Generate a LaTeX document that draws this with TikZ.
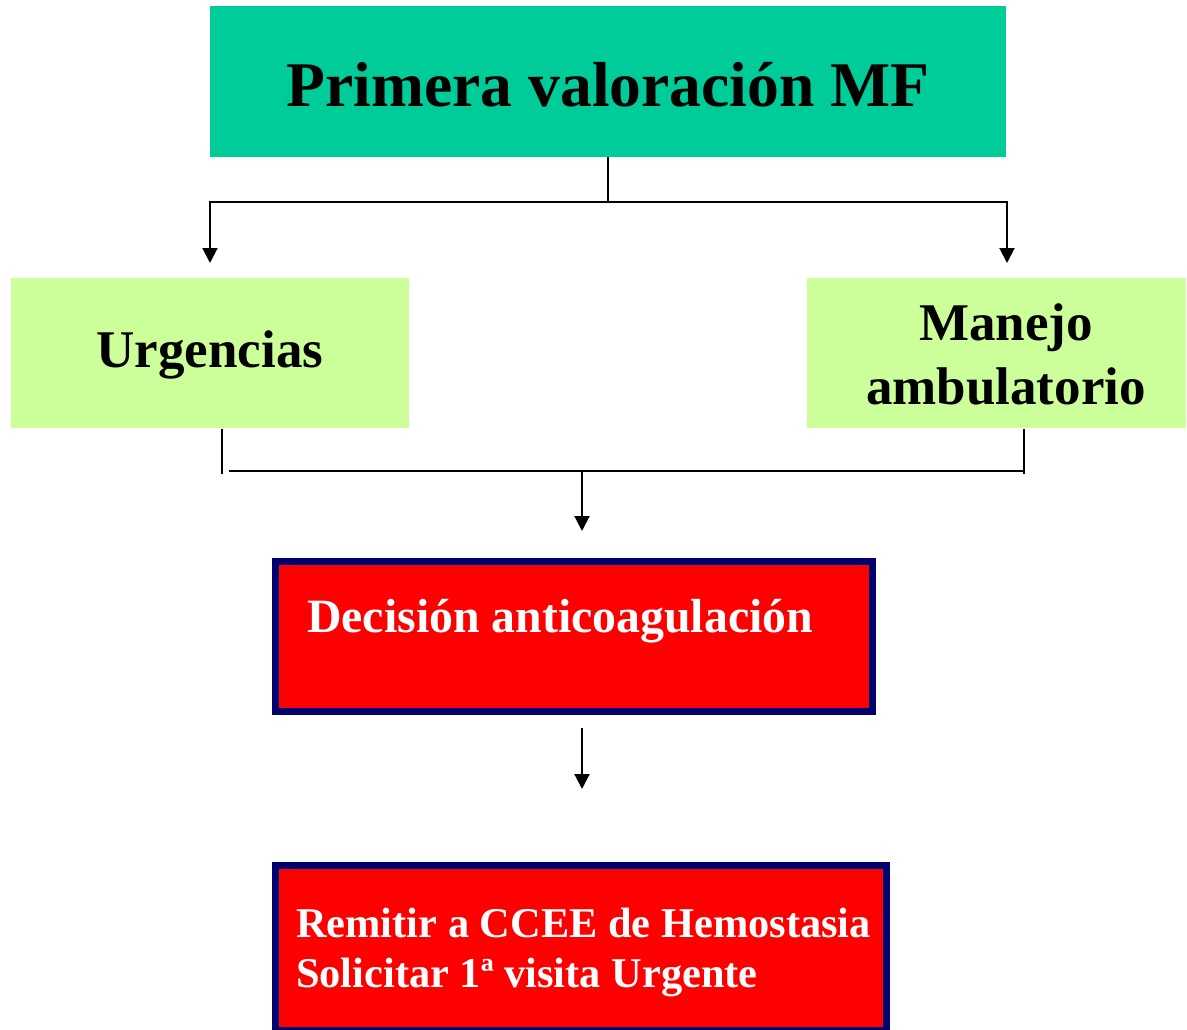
\documentclass[tikz,border=0pt]{standalone}
\usepackage{fontspec}
\setmainfont{Liberation Serif}
\usetikzlibrary{arrows.meta,calc}
\definecolor{topgreen}{HTML}{00CC99}
\definecolor{lightgreen}{HTML}{CCFF99}
\definecolor{boxred}{HTML}{FF0000}
\definecolor{navy}{HTML}{000070}
\tikzset{
  conn/.style={line width=2pt, black},
  arr/.style={conn, -{Triangle[width=15pt,length=15pt]}},
  plainbox/.style={rectangle, inner sep=0pt, outer sep=0pt, anchor=north west},
  redbox/.style={rectangle, inner sep=0pt, outer sep=0pt, anchor=north west, fill=boxred, draw=navy, line width=7pt},
  txt/.style={inner sep=0pt, font=\bfseries},
}
\begin{document}
\begin{tikzpicture}[x=1pt,y=-1pt]
\useasboundingbox (0,0) rectangle (1187,1029);
\clip (0,0) rectangle (1187,1029);
% boxes
\node[plainbox, fill=topgreen, minimum width=796pt, minimum height=151pt] (top) at (210,6) {};
\node[plainbox, fill=lightgreen, minimum width=398pt, minimum height=150pt] (urg) at (11,278) {};
\node[plainbox, fill=lightgreen, minimum width=379pt, minimum height=150pt] (man) at (807,278) {};
\node[redbox, minimum width=597pt, minimum height=150pt] (dec) at (275.5,561.5) {};
\node[redbox, minimum width=611pt, minimum height=165pt] (rem) at (275.5,865.5) {};
% texts
\node[txt, anchor=base, font=\bfseries\fontsize{63.6}{70}\selectfont] (ttop) at (608,106) {Primera valoración MF};
\node[txt, anchor=base, font=\bfseries\fontsize{53}{60}\selectfont] (turg) at (210,367) {Urgencias};
\node[txt, anchor=base, font=\bfseries\fontsize{53}{60}\selectfont] (tman1) at (1006,340) {Manejo};
\node[txt, anchor=base, font=\bfseries\fontsize{53}{60}\selectfont] (tman2) at (1006,404) {ambulatorio};
\node[txt, anchor=base west, text=white, font=\bfseries\fontsize{47.8}{54}\selectfont] (tdec) at (307,632) {Decisión anticoagulación};
\node[txt, anchor=base west, text=white, font=\bfseries\fontsize{42.4}{50}\selectfont] (trem1) at (296,937) {Remitir a CCEE de Hemostasia};
\node[txt, anchor=base west, text=white, font=\bfseries\fontsize{42.4}{50}\selectfont] (trem2) at (296,987) {Solicitar 1ª visita Urgente};
% connectors
\coordinate (j1) at (608,202);
\coordinate (a1) at (210,263);
\coordinate (a2) at (1007,263);
\draw[conn] (top.south) -- (j1);
\draw[arr] (j1) -| (a1);
\draw[arr] (j1) -| (a2);
\coordinate (u1) at (222,429);
\coordinate (u2) at (222,474);
\coordinate (h1) at (229,470.5);
\coordinate (h2) at (1024,470.5);
\coordinate (m1) at (1024,429);
\coordinate (m2) at (1024,474);
\coordinate (j2) at (582,470.5);
\coordinate (a3) at (582,531);
\draw[conn] (u1) -- (u2);
\draw[conn] (h1) -- (h2);
\draw[conn] (m1) -- (m2);
\draw[arr] (j2) -- (a3);
\coordinate (j3) at (582,728);
\coordinate (a4) at (582,789);
\draw[arr] (j3) -- (a4);
\end{tikzpicture}
\end{document}
